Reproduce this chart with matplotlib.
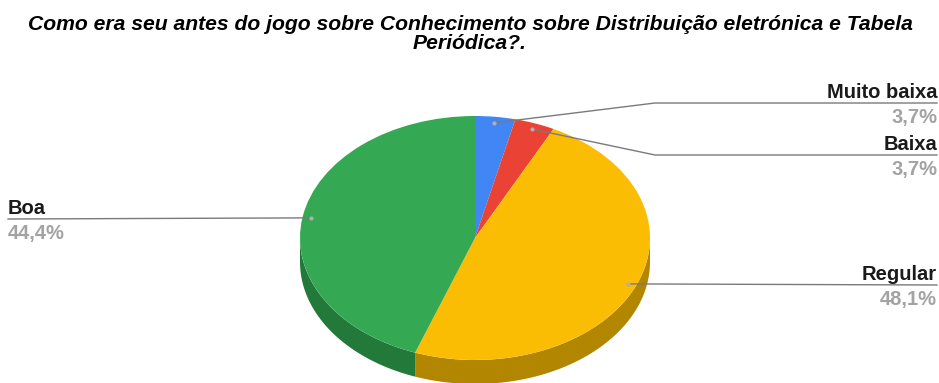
import matplotlib.pyplot as plt
import numpy as np

# data
labels = ['Muito baixa', 'Baixa', 'Regular', 'Boa']
values = [3.7, 3.7, 48.1, 44.4]
pct_text = ['3,7%', '3,7%', '48,1%', '44,4%']
colors = ['#4285F4', '#EA4335', '#FBBC04', '#34A853']
side_colors = ['#2E5DAA', '#A32F25', '#B38600', '#22793A']
title = ('Como era seu antes do jogo sobre Conhecimento sobre Distribuição eletrónica e Tabela\n'
         'Periódica?.')

plt.rcParams['font.family'] = ['Liberation Sans', 'DejaVu Sans']

W, H = 939, 383
CX, CY, RX, RY = 475, 238, 175, 122   # pie centre / radii in pixels
DEPTH = 24 / RY                        # thickness of the 3d side


def X(px):
    return (px - CX) / RX


def Y(py):
    return (CY - py) / RY


fig = plt.figure(figsize=(W / 100, H / 100), dpi=100)
ax = fig.add_axes([0, 0, 1, 1])

# top face
ax.pie(values, colors=colors, startangle=90, counterclock=False,
       wedgeprops=dict(linewidth=0), radius=1, center=(0, 0))
ax.set_aspect('auto')
ax.set_xlim(X(0), X(W))
ax.set_ylim(Y(H), Y(0))
ax.axis('off')

# side of the pie (only front half is visible)
frac = np.array(values) / sum(values)
bounds = 90 - 360 * np.concatenate([[0], np.cumsum(frac)])
for i in range(len(values)):
    a0, a1 = bounds[i + 1], bounds[i]          # a0 < a1
    t = np.radians(np.linspace(a0, a1, 200))
    t = t[np.sin(t) <= 0]
    if len(t) < 2:
        continue
    xs = np.cos(t)
    ys = np.sin(t)
    px = np.concatenate([xs, xs[::-1]])
    py = np.concatenate([ys, ys[::-1] - DEPTH])
    ax.fill(px, py, color=side_colors[i], lw=0, zorder=0, clip_on=False)

# leader lines and labels
mid = np.radians((bounds[:-1] + bounds[1:]) / 2)
dots_x = 0.95 * np.cos(mid)
dots_y = 0.95 * np.sin(mid)
line_y = [103, 155, 285, 219]
elbow_x = [655, 655, None, None]
side = ['right', 'right', 'right', 'left']
line_col = '#7a7a7a'
for i in range(len(values)):
    ly = Y(line_y[i])
    if side[i] == 'right':
        xe = X(937)
        if elbow_x[i] is not None:
            xs = [dots_x[i], X(elbow_x[i]), xe]
            ys = [dots_y[i], ly, ly]
        else:
            xs = [dots_x[i], xe]
            ys = [dots_y[i], ly]
        ha = 'right'
        tx = xe
    else:
        xe = X(8)
        xs = [dots_x[i], xe]
        ys = [dots_y[i], ly]
        ha = 'left'
        tx = xe
    ax.plot(xs, ys, color=line_col, lw=1, zorder=3, clip_on=False)
    ax.plot(dots_x[i], dots_y[i], 'o', ms=3, color='#b0b0b0', mec='none', zorder=4)
    ax.text(tx, ly + 5 / RY, labels[i], ha=ha, va='baseline', fontsize=14.5,
            fontweight='bold', color='#1a1a1a')
    ax.text(tx, ly - 5 / RY, pct_text[i], ha=ha, va='top', fontsize=14.5,
            fontweight='bold', color='#a3a3a3')

fig.text(470 / W, 1 - 34 / H, title, ha='center', va='center', fontsize=15.2,
         fontweight='bold', fontstyle='italic', color='#000000', linespacing=0.95)

fig.savefig('out.png', dpi=100)
